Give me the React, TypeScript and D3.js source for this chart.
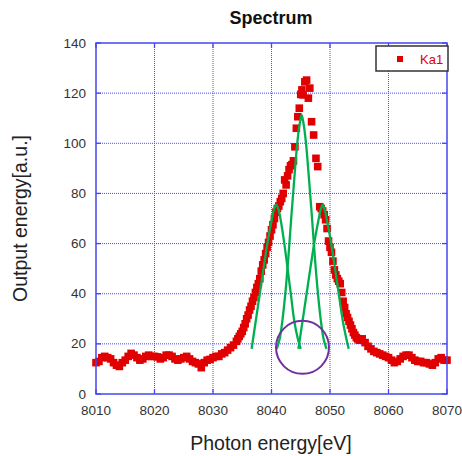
import React from "react";
import * as d3 from "d3";

// ---- data ----
const xTicks = [8010, 8020, 8030, 8040, 8050, 8060, 8070];
const yTicks = [0, 20, 40, 60, 80, 100, 120, 140];

const energy = [
  8010, 8010.5, 8011, 8011.5, 8012, 8012.5, 8013, 8013.5, 8014, 8014.5,
  8015, 8015.5, 8016, 8016.5, 8017, 8017.5, 8018, 8018.5, 8019, 8019.5,
  8020, 8020.5, 8021, 8021.5, 8022, 8022.5, 8023, 8023.5, 8024, 8024.5,
  8025, 8025.5, 8026, 8026.5, 8027, 8027.5, 8028, 8028.5, 8029, 8029.5,
  8030, 8030.5, 8031, 8031.5, 8032, 8032.5, 8033, 8033.5,
  8034, 8034.25, 8034.5, 8034.75, 8035, 8035.25, 8035.5, 8035.75,
  8036, 8036.25, 8036.5, 8036.75, 8037, 8037.25, 8037.5, 8037.75,
  8038, 8038.25, 8038.5, 8038.75, 8039, 8039.25, 8039.5, 8039.75,
  8040, 8040.25, 8040.5, 8040.75, 8041, 8041.25, 8041.5, 8041.75,
  8042, 8042.25, 8042.5, 8042.75, 8043, 8043.25, 8043.5, 8043.75,
  8044, 8044.25, 8044.5, 8044.75, 8045, 8045.2, 8045.4, 8045.7,
  8046, 8046.3, 8046.55, 8046.85, 8047.2, 8047.6, 8047.9,
  8048.25, 8048.5, 8048.75, 8049, 8049.25, 8049.5, 8049.75,
  8050, 8050.25, 8050.5, 8050.75, 8051, 8051.25, 8051.5, 8051.75,
  8052, 8052.25, 8052.5, 8052.75, 8053, 8053.25, 8053.5, 8053.75,
  8054, 8054.25, 8054.5, 8054.75, 8055, 8055.25, 8055.5,
  8056, 8056.5, 8057, 8057.5, 8058, 8058.5, 8059, 8059.5,
  8060, 8060.5, 8061, 8061.5, 8062, 8062.5, 8063, 8063.5,
  8064, 8064.5, 8065, 8065.5, 8066, 8066.5, 8067, 8067.5,
  8068, 8068.5, 8069, 8069.5, 8070,
];

const output = [
  12.5, 13, 14.5, 15, 14.5, 14, 12.5, 11.5, 11, 12.5,
  13.5, 15, 16.2, 15.5, 14.5, 13.5, 14, 15, 15.5, 15,
  15, 14.8, 14, 14.5, 15.5, 15.5, 15, 14, 13.5, 14,
  14.5, 15, 14, 13, 12.5, 12, 10.5, 12.5, 13.5, 13.8,
  14.5, 15, 15, 16, 16.5, 17.5, 18.5, 19.5,
  21, 22, 23, 24, 25, 26.5, 28, 30,
  31.5, 33.5, 35, 37, 38.5, 40.5, 42.5, 44,
  46, 49, 51.5, 53.5, 56, 58.5, 60.5, 63,
  65.5, 67.5, 70, 72.5, 74, 75, 76.7, 78,
  80, 85.4, 83.4, 87, 89.5, 91, 91.5, 93,
  98.6, 106, 110.6, 114, 119.5, 121.3, 119.3, 124.5,
  125.2, 118, 122, 108.6, 103.3, 94, 90.7,
  74.7, 74, 73, 71.5, 69.5, 66, 61,
  58.5, 56.5, 53, 49.5, 47.5, 46, 45, 44,
  40.5, 37, 34.5, 32, 30.5, 29, 27.5, 26,
  24.5, 23.5, 22.5, 22, 21.5, 21.5, 22,
  20.5, 19, 18, 17, 16.5, 16, 15.5, 15,
  14.5, 13.5, 12.5, 13, 14, 15, 15.5, 15.5,
  14.5, 13.5, 13, 13, 12.5, 12.5, 12, 11.5,
  12.5, 14, 14.5, 13.5, 13.5,
];

// fitted component curves
const leftFitE = [8036.6, 8037.3, 8038.0, 8038.7, 8039.4, 8040.0, 8040.4, 8040.8, 8041.2, 8041.6, 8042.1, 8042.7, 8043.3, 8043.9, 8044.5, 8045.0];
const leftFitV = [18, 29, 40, 51, 61.5, 69, 73.5, 75.5, 73.5, 69, 61.5, 51, 40, 29, 22, 18];

const centerFitE = [8040.9, 8041.4, 8041.9, 8042.4, 8042.9, 8043.4, 8043.9, 8044.4, 8044.8, 8045.15, 8045.5, 8045.9, 8046.4, 8046.9, 8047.4, 8047.9, 8048.4, 8048.9, 8049.4];
const centerFitV = [18, 22, 30, 41, 55, 71, 86, 100, 107.5, 111.3, 107.5, 100, 86, 71, 55, 41, 30, 22, 18];

const rightFitE = [8044.6, 8045.3, 8046.0, 8046.7, 8047.4, 8048.0, 8048.4, 8048.75, 8049.1, 8049.5, 8050.1, 8050.8, 8051.5, 8052.2, 8052.8, 8053.2];
const rightFitV = [18, 29, 40, 51, 61.5, 69, 73.5, 75.4, 73.5, 69, 61.5, 51, 40, 29, 22, 18];

const circleCenter = [8045.3, 18.6];
const legendLabel = "Ka1";

export default function App() {
  const W = 462, H = 456;
  const L = 96, R = 447, T = 43, B = 394;
  const x = d3.scaleLinear().domain([8010, 8070]).range([L, R]);
  const y = d3.scaleLinear().domain([0, 140]).range([B, T]);

  const line = d3
    .line<[number, number]>()
    .x((d) => x(d[0]))
    .y((d) => y(d[1]))
    .curve(d3.curveCatmullRom.alpha(0.5));

  const fits = [
    [leftFitE, leftFitV],
    [centerFitE, centerFitV],
    [rightFitE, rightFitV],
  ].map(([es, vs]) => es.map((e, i) => [e, vs[i]] as [number, number]));

  const blue = "#4646f0";
  const gridColor = "#4a4af8";
  const red = "#e00000";
  const green = "#00b050";
  const ms = 7.6;

  return (
    <svg
      width={W}
      height={H}
      style={{ position: "absolute", left: 0, top: 0, background: "#fff" }}
      fontFamily="'Liberation Sans', Arial, sans-serif"
    >
      <rect x={0} y={0} width={W} height={H} fill="#fff" />
      {/* grid */}
      {xTicks.slice(1, -1).map((t) => (
        <line key={"gx" + t} x1={x(t)} x2={x(t)} y1={T} y2={B} stroke={gridColor} strokeWidth={1} strokeDasharray="1,1" />
      ))}
      {yTicks.slice(1, -1).map((t) => (
        <line key={"gy" + t} x1={L} x2={R} y1={y(t)} y2={y(t)} stroke={gridColor} strokeWidth={1} strokeDasharray="1,1" />
      ))}
      {/* tick marks */}
      {xTicks.map((t) => (
        <g key={"tx" + t}>
          <line x1={x(t)} x2={x(t)} y1={B} y2={B - 5} stroke={blue} strokeWidth={1.3} />
          <line x1={x(t)} x2={x(t)} y1={T} y2={T + 5} stroke={blue} strokeWidth={1.3} />
        </g>
      ))}
      {yTicks.map((t) => (
        <g key={"ty" + t}>
          <line x1={L} x2={L + 5} y1={y(t)} y2={y(t)} stroke={blue} strokeWidth={1.3} />
          <line x1={R} x2={R - 5} y1={y(t)} y2={y(t)} stroke={blue} strokeWidth={1.3} />
        </g>
      ))}
      {/* scatter */}
      {energy.map((e, i) => (
        <rect key={"p" + i} x={x(e) - ms / 2} y={y(output[i]) - ms / 2} width={ms} height={ms} fill={red} />
      ))}
      {/* fits */}
      {fits.map((pts, i) => (
        <path key={"f" + i} d={line(pts) || ""} fill="none" stroke={green} strokeWidth={2.3} />
      ))}
      {/* circle */}
      <circle cx={x(circleCenter[0])} cy={y(circleCenter[1])} r={26.5} fill="none" stroke="#7030a0" strokeWidth={2} />
      {/* border */}
      <rect x={L} y={T} width={R - L} height={B - T} fill="none" stroke={blue} strokeWidth={1.5} />
      {/* tick labels */}
      {xTicks.map((t) => (
        <text key={"lx" + t} x={x(t)} y={415} textAnchor="middle" fontSize={13.5} fill="#333">
          {t}
        </text>
      ))}
      {yTicks.map((t) => (
        <text key={"ly" + t} x={86} y={y(t) + 4.5} textAnchor="end" fontSize={13.5} fill="#333">
          {t}
        </text>
      ))}
      {/* titles */}
      <text x={271} y={24} textAnchor="middle" fontSize={18} fontWeight="bold" fill="#111">
        Spectrum
      </text>
      <text x={271} y={450} textAnchor="middle" fontSize={19.5} fill="#222">
        Photon energy[eV]
      </text>
      <text transform={`translate(27, ${(T + B) / 2}) rotate(-90)`} textAnchor="middle" fontSize={19.5} fill="#222">
        Output energy[a.u.]
      </text>
      {/* legend */}
      <rect x={376} y={46} width={72} height={25} fill="#fff" stroke="#333" strokeWidth={1.5} />
      <rect x={400 - 3} y={59 - 3} width={6} height={6} fill={red} />
      <text x={420} y={63.5} fontSize={13} fill={red}>
        {legendLabel}
      </text>
    </svg>
  );
}
